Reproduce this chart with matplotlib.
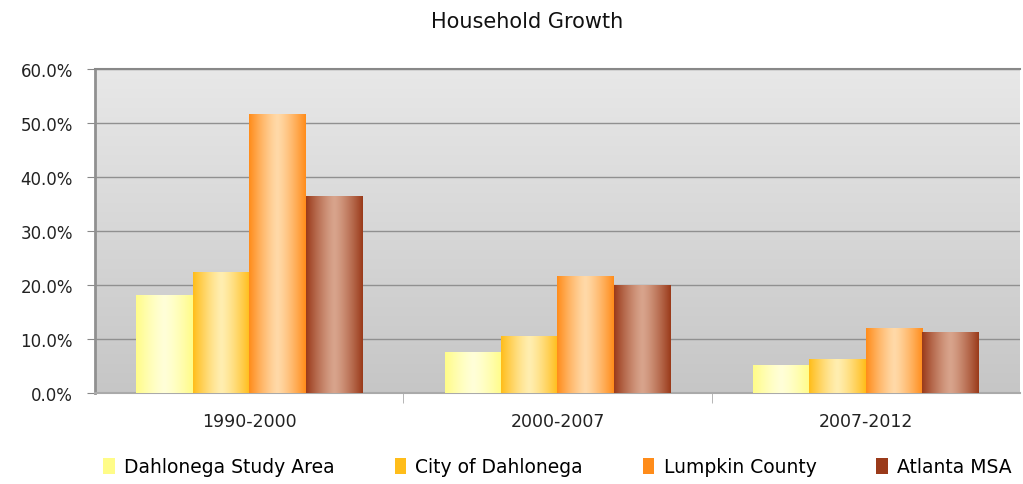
import numpy as np
import matplotlib.pyplot as plt
from matplotlib.colors import LinearSegmentedColormap
from matplotlib.patches import Patch
from matplotlib.ticker import FuncFormatter

periods = ["1990-2000", "2000-2007", "2007-2012"]
series = ["Dahlonega Study Area", "City of Dahlonega", "Lumpkin County", "Atlanta MSA"]
study_area = [18.1, 7.6, 5.2]
city = [22.4, 10.6, 6.3]
lumpkin = [51.7, 21.7, 12.0]
atlanta = [36.5, 20.0, 11.3]

# edge colour, centre colour for the cylinder-ish shading
shades = [("#fffc88", "#ffffd8"),
          ("#ffbd1a", "#ffeeb0"),
          ("#ff8c1a", "#ffd9a8"),
          ("#9a3a1a", "#d8a48c")]

plt.rcParams['font.family'] = ['DejaVu Sans']
fig = plt.figure(figsize=(10.23, 4.85), dpi=100)
ax = fig.add_axes([95/1023, 1 - 394/485, 925/1023, 324/485])

# grey gradient background
bg = np.linspace(0, 1, 256).reshape(-1, 1)
bg_cmap = LinearSegmentedColormap.from_list("bg", ["#e8e8e8", "#c6c6c6"])
ax.imshow(bg, cmap=bg_cmap, aspect='auto', extent=[0, 1, 0, 1],
          transform=ax.transAxes, zorder=0)

x = np.arange(len(periods))
w = 0.183
values = [study_area, city, lumpkin, atlanta]
grad = np.abs(np.linspace(-1, 1, 200)) ** 1.3
grad = grad.reshape(1, -1)
for i, (vals, (edge, mid)) in enumerate(zip(values, shades)):
    cmap = LinearSegmentedColormap.from_list(series[i], [mid, edge])
    offs = x + (i - 1.5) * w
    bars = ax.bar(offs, vals, width=w, color=edge, zorder=2, linewidth=0)
    for b in bars:
        x0, y0 = b.get_x(), b.get_y()
        im = ax.imshow(grad, cmap=cmap, aspect='auto', zorder=3,
                       extent=[x0, x0 + b.get_width(), y0, y0 + b.get_height()])
        im.set_clip_path(b)

ax.set_xlim(-0.5, 2.5)
ax.set_ylim(0, 60)
ax.set_yticks(np.arange(0, 61, 10))
ax.yaxis.set_major_formatter(FuncFormatter(lambda v, p: f"{v:.1f}%"))
ax.set_xticks(x)
ax.set_xticklabels(periods)
ax.set_xticks([0.5, 1.5], minor=True)
ax.tick_params(axis='x', which='major', length=0, pad=14, labelsize=12.5, colors="#222222")
ax.tick_params(axis='x', which='minor', length=7, color="#aaaaaa")
ax.tick_params(axis='y', length=6, color="#888888", labelsize=12, colors="#222222", pad=10)
ax.grid(axis='y', color="#909090", linewidth=1.0, zorder=1)
ax.set_axisbelow(True)
ax.spines["right"].set_visible(False)
ax.spines["left"].set_color("#909090")
ax.spines["left"].set_linewidth(2)
ax.spines["top"].set_color("#888888")
ax.spines["top"].set_linewidth(1.5)
ax.spines["bottom"].set_color("#aaaaaa")
ax.spines["bottom"].set_linewidth(1.5)

fig.text(0.515, 1 - 22/485, "Household Growth", ha='center', va='center',
         fontsize=15, color="#111111", fontweight='medium')

handles = [Patch(facecolor=e, edgecolor='none') for e, m in shades]
fig.legend(handles, series, loc='center', bbox_to_anchor=(0.545, 1 - 468/485),
           ncol=4, frameon=False, fontsize=13.5, handlelength=0.6, handleheight=1.0,
           handletextpad=0.5, columnspacing=3.2)

fig.savefig("out.png", dpi=100)
